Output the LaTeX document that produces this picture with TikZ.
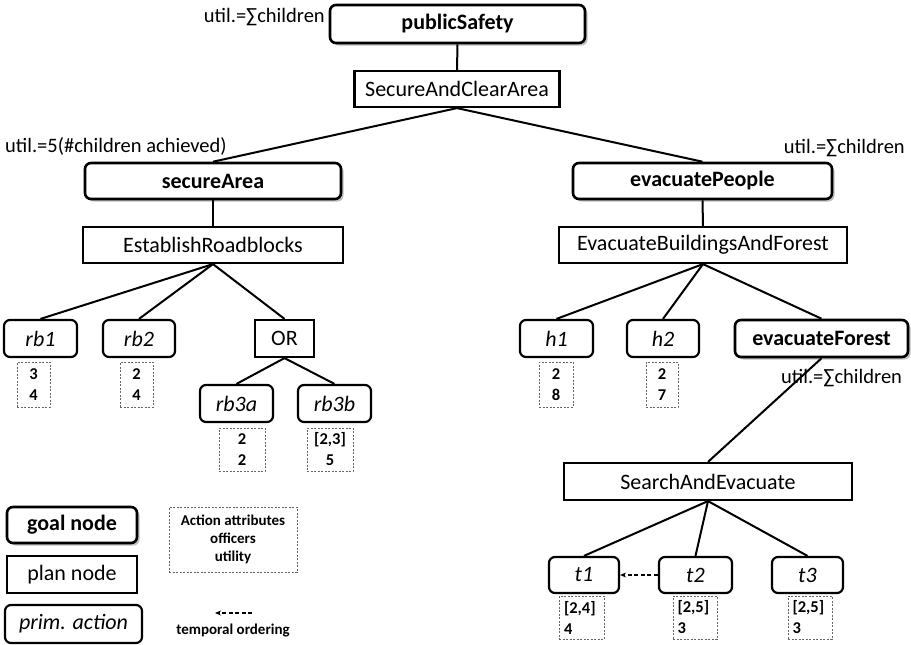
\documentclass[tikz,border=0pt]{standalone}
\usepackage{fontspec}
\setmainfont{Carlito}
\usetikzlibrary{shadows,arrows.meta}
\begin{document}
\begin{tikzpicture}[x=1pt,y=-1pt,
  every node/.style={inner sep=0pt},
  goal/.style={draw, line width=2.6pt, rounded corners=6pt, fill=white,
    font=\bfseries\fontsize{22}{22}\selectfont,
    drop shadow={shadow xshift=2.5pt, shadow yshift=-2.5pt, fill=black, opacity=0.25}},
  plan/.style={draw, line width=2.2pt, fill=white, font=\fontsize{22}{22}\selectfont},
  prim/.style={draw, line width=2.2pt, rounded corners=6pt, fill=white, font=\itshape\fontsize{22}{22}\selectfont},
  attr/.style={draw=black!60, dash pattern=on 2pt off 1.5pt, line width=1pt,
    font=\bfseries\fontsize{16.5}{21}\selectfont, align=center},
  attrl/.style={attr, align=left, text width=35pt},
  lbl/.style={font=\fontsize{20.5}{20.5}\selectfont},
  edge/.style={line width=2pt},
]
\useasboundingbox (0,0) rectangle (911,645);

% goal / plan nodes
\node[goal, minimum width=255pt, minimum height=38pt] (ps) at (457.5,24) {publicSafety};
\node[plan, minimum width=205pt, minimum height=36pt] (sca) at (457,89) {SecureAndClearArea};
\node[goal, minimum width=256pt, minimum height=36pt] (sa) at (213,181) {secureArea};
\node[goal, minimum width=259pt, minimum height=36pt] (ep) at (702.5,181) {evacuatePeople};
\node[plan, minimum width=260pt, minimum height=36pt] (er) at (213,245) {EstablishRoadblocks};
\node[plan, minimum width=288pt, minimum height=36pt] (eb) at (703,245) {EvacuateBuildingsAndForest};

% primitive actions left
\node[prim, minimum width=73pt, minimum height=37pt] (rb1) at (40.5,338.5) {rb1};
\node[prim, minimum width=72pt, minimum height=37pt] (rb2) at (139,338.5) {rb2};
\node[plan, minimum width=59pt, minimum height=37pt] (or) at (284.5,338.5) {OR};
\node[prim, minimum width=73pt, minimum height=37pt] (rb3a) at (236.5,403.5) {rb3a};
\node[prim, minimum width=73pt, minimum height=37pt] (rb3b) at (334.5,403.5) {rb3b};

% right
\node[prim, minimum width=73pt, minimum height=37pt] (h1) at (556.5,338.5) {h1};
\node[prim, minimum width=72pt, minimum height=37pt] (h2) at (663,338.5) {h2};
\node[goal, minimum width=173pt, minimum height=37pt] (ef) at (821.5,338.5) {evacuateForest};
\node[plan, minimum width=288pt, minimum height=37pt] (se) at (708,481.5) {SearchAndEvacuate};
\node[prim, minimum width=70pt, minimum height=36pt] (t1) at (584,575) {t1};
\node[prim, minimum width=73pt, minimum height=36pt] (t2) at (695.5,575) {t2};
\node[prim, minimum width=71pt, minimum height=36pt] (t3) at (807.5,575) {t3};

% attribute boxes
\node[attr, minimum width=33pt, minimum height=45pt] (a1) at (33.5,384.5) {3\\4};
\node[attr, minimum width=33pt, minimum height=45pt] (a2) at (136.5,384.5) {2\\4};
\node[attr, minimum width=46pt, minimum height=43pt] (a3a) at (242,449.5) {2\\2};
\node[attr, minimum width=46pt, minimum height=43pt] (a3b) at (330,449.5) {[2,3]\\5};
\node[attr, minimum width=34pt, minimum height=45pt] (ah1) at (556,384.5) {2\\8};
\node[attr, minimum width=32pt, minimum height=45pt] (ah2) at (662,384.5) {2\\7};
\node[attrl, minimum width=45pt, minimum height=43pt] (at1) at (581.5,617.5) {[2,4]\\4};
\node[attrl, minimum width=44pt, minimum height=43pt] (at2) at (695,617.5) {[2,5]\\3};
\node[attrl, minimum width=44pt, minimum height=43pt] (at3) at (810,617.5) {[2,5]\\3};

% edges
\draw[edge] (ps.south) -- (sca.north);
\draw[edge] (sca.south) -- (sa.north);
\draw[edge] (sca.south) -- (ep.north);
\draw[edge] (sa.south) -- (er.north);
\draw[edge] (ep.south) -- (eb.north);
\draw[edge] (er.south) -- (rb1.north);
\draw[edge] (er.south) -- (rb2.north);
\draw[edge] (er.south) -- (or.north);
\draw[edge] (or.south) -- (rb3a.north);
\draw[edge] (or.south) -- (rb3b.north);
\draw[edge] (eb.south) -- (h1.north);
\draw[edge] (eb.south) -- (h2.north);
\draw[edge] (eb.south) -- (ef.north);
\draw[edge] (se.north) -- (ef.south);
\draw[edge] (se.south) -- (t1.north);
\draw[edge] (se.south) -- (t2.north);
\draw[edge] (se.south) -- (t3.north);
\draw[line width=1.3pt, dash pattern=on 4pt off 2.5pt, -{Stealth[length=6pt,width=5pt]}] (t2.west) -- (t1.east);

% utility labels
\node[lbl, anchor=east] (u1) at (325,17) {util.=∑children};
\node[lbl, anchor=west] (u2) at (5,146) {util.=5(\#children achieved)};
\node[lbl, anchor=east] (u3) at (905,148) {util.=∑children};
\node[lbl, anchor=west] (u4) at (781,378) {util.=∑children};

% legend
\node[goal, minimum width=130pt, minimum height=36pt] (lg) at (72,525) {goal node};
\node[plan, minimum width=130pt, minimum height=37pt] (lp) at (72,574.5) {plan node};
\node[prim, minimum width=137pt, minimum height=38pt] (la) at (73.5,624) {prim. action};
\node[attr, minimum width=128pt, minimum height=65pt, font=\bfseries\fontsize{15}{18}\selectfont] (lat) at (233,539.5) {Action attributes\\officers\\utility};
\coordinate (arrs) at (252,613);
\coordinate (arre) at (215,613);
\draw[line width=1.3pt, dash pattern=on 4pt off 2.5pt, -{Stealth[length=6pt,width=5pt]}] (arrs) -- (arre);
\node[font=\bfseries\fontsize{15}{15}\selectfont] (lto) at (233,631) {temporal ordering};
\end{tikzpicture}
\end{document}
